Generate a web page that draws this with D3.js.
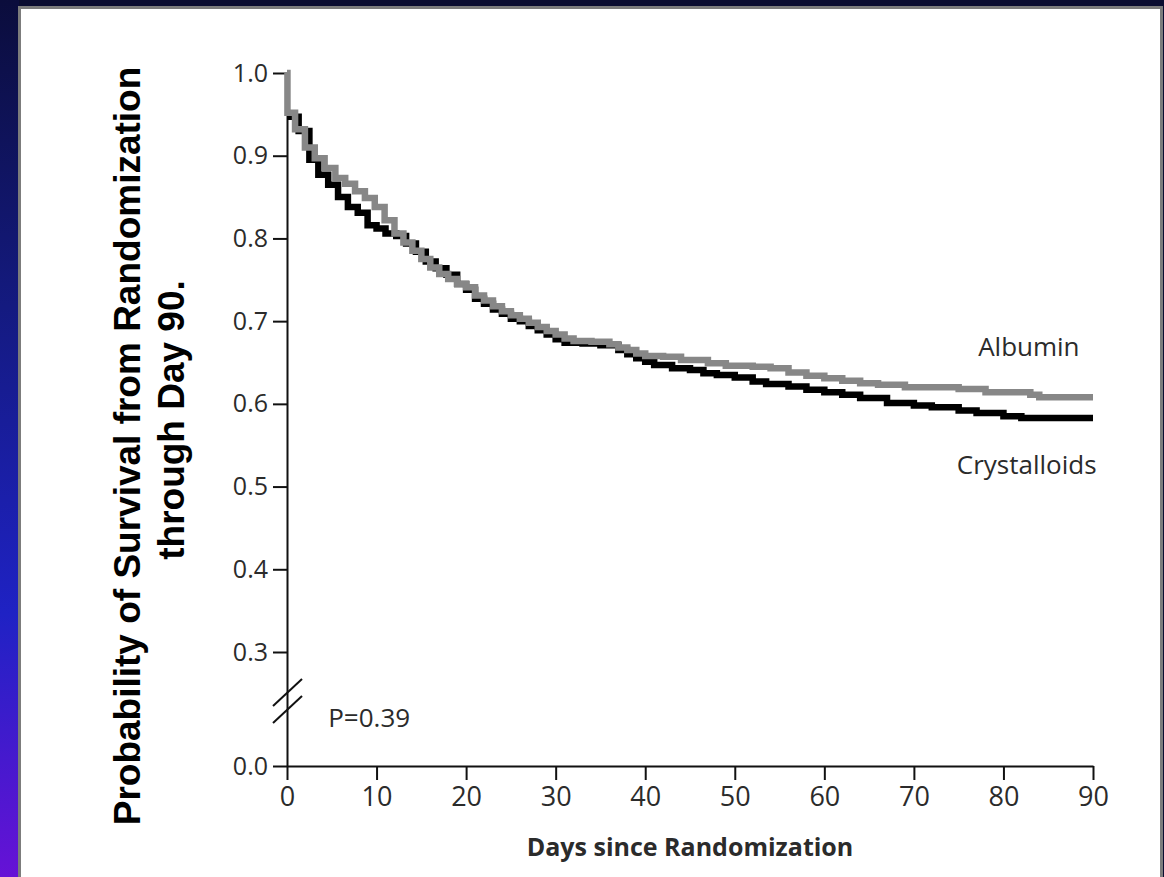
<!DOCTYPE html>
<html>
<head>
<meta charset="utf-8">
<script src="https://cdn.jsdelivr.net/npm/d3@7"></script>
<style>
  body { margin: 0; background: #0a0c30; }
  svg { display: block; }
  .axis path, .axis line { stroke: #111; stroke-width: 2; }
  .axis text { font-family: "Open Sans", sans-serif; fill: #2b2b2b; }
  .y.axis text { font-size: 25px; }
  .x.axis text { font-size: 27px; }
</style>
</head>
<body>
<div id="chart"></div>
<script>
// Kaplan-Meier steps (day, survival)
var albuminDays = [0, 0.05, 0.9, 2.0, 3.1, 4.2, 5.4, 6.5, 7.6, 8.7, 9.8, 10.9, 12.0, 13.0, 14.0, 15.0, 16.0,
  17.0, 18.0, 19.0, 20.0, 21.0, 22.0, 23.0, 24.0, 25.0, 26.0, 27.0, 28.0, 29.0, 30.0, 31.0, 32.0, 34.0,
  36.0, 37.0, 38.0, 39.0, 40.0, 42.0, 44.0, 47.0, 49.0, 52.0, 54.0, 56.0, 58.0, 60.0, 62.0, 64.0, 66.0,
  69.0, 75.0, 78.0, 83.0, 84.0, 90.0];
var albuminSurv = [1.0, 0.952, 0.932, 0.910, 0.897, 0.885, 0.873, 0.866, 0.857, 0.849, 0.838, 0.822, 0.806,
  0.795, 0.785, 0.775, 0.765, 0.757, 0.751, 0.745, 0.741, 0.731, 0.725, 0.718, 0.712, 0.707, 0.703,
  0.698, 0.693, 0.688, 0.684, 0.679, 0.676, 0.675, 0.672, 0.668, 0.665, 0.661, 0.658, 0.657, 0.653,
  0.649, 0.646, 0.645, 0.643, 0.638, 0.634, 0.631, 0.628, 0.625, 0.623, 0.620, 0.618, 0.614, 0.611,
  0.608, 0.608];

var crystDays = [0, 1.3, 2.5, 3.5, 4.6, 5.7, 6.8, 7.9, 9.0, 10.0, 11.0, 12.2, 13.3, 14.4, 15.5, 16.6, 17.8,
  19.0, 20.0, 21.0, 22.0, 23.0, 24.0, 25.0, 26.0, 27.0, 28.0, 29.0, 30.0, 31.0, 33.0, 35.0, 37.0, 38.0,
  39.0, 40.0, 41.0, 43.0, 45.0, 46.5, 48.0, 50.0, 52.0, 53.5, 56.0, 58.0, 60.0, 62.0, 64.0, 67.0, 70.0,
  72.0, 75.0, 77.0, 80.0, 82.0, 90.0];
var crystSurv = [0.947, 0.930, 0.895, 0.877, 0.865, 0.850, 0.838, 0.831, 0.816, 0.812, 0.806, 0.803, 0.794,
  0.784, 0.772, 0.764, 0.756, 0.745, 0.738, 0.727, 0.721, 0.714, 0.709, 0.703, 0.700, 0.694, 0.689,
  0.684, 0.678, 0.674, 0.673, 0.671, 0.665, 0.660, 0.655, 0.651, 0.647, 0.643, 0.641, 0.637, 0.635,
  0.632, 0.627, 0.624, 0.621, 0.617, 0.614, 0.611, 0.607, 0.601, 0.598, 0.596, 0.592, 0.589, 0.585,
  0.583, 0.583];

var xTicks = [0, 10, 20, 30, 40, 50, 60, 70, 80, 90];
var yTicks = [0.0, 0.3, 0.4, 0.5, 0.6, 0.7, 0.8, 0.9, 1.0];

var W = 1164, H = 877;
var margin = { top: 73, right: 71, bottom: 111, left: 287 };
var plotW = W - margin.left - margin.right;
var plotH = H - margin.top - margin.bottom;

var svg = d3.select('#chart').append('svg').attr('width', W).attr('height', H);

// backdrop: navy frame with a blue/purple left edge, white panel
var defs = svg.append('defs');
var grad = defs.append('linearGradient').attr('id', 'edge')
  .attr('x1', 0).attr('y1', 0).attr('x2', 0).attr('y2', 1);
grad.append('stop').attr('offset', '0%').attr('stop-color', '#0b0d3c');
grad.append('stop').attr('offset', '35%').attr('stop-color', '#141a80');
grad.append('stop').attr('offset', '70%').attr('stop-color', '#1f22c4');
grad.append('stop').attr('offset', '100%').attr('stop-color', '#6612d6');
svg.append('rect').attr('width', W).attr('height', H).attr('fill', '#0a0c30');
svg.append('rect').attr('width', 19).attr('height', H).attr('fill', 'url(#edge)');
svg.append('rect').attr('x', 19.5).attr('y', 7.5).attr('width', 1142).attr('height', H)
  .attr('fill', '#fff').attr('stroke', '#7c7c7c').attr('stroke-width', 3);

var g = svg.append('g').attr('transform', 'translate(' + margin.left + ',' + margin.top + ')');

var x = d3.scaleLinear().domain([0, 90]).range([0, plotW]);
// broken axis: 0.0 sits just below the 0.3 tick
var y = d3.scaleLinear().domain([0, 0.3, 1]).range([plotH, plotH - 114, 0]);

var xAxis = d3.axisBottom(x).tickValues(xTicks).tickSize(14).tickSizeOuter(0).tickPadding(7);
var yAxis = d3.axisLeft(y).tickValues(yTicks).tickSize(14).tickSizeOuter(0).tickPadding(5)
  .tickFormat(d3.format('.1f'));

g.append('g').attr('class', 'y axis').call(yAxis);
g.append('g').attr('class', 'x axis').attr('transform', 'translate(0,' + plotH + ')').call(xAxis);

// break marks on the y axis
[0.15, 0.195].forEach(function(v) {
  g.append('line')
    .attr('x1', -14).attr('y1', y(v) + 14)
    .attr('x2', 15).attr('y2', y(v) - 13)
    .attr('stroke', '#111').attr('stroke-width', 2);
});

var line = d3.line().curve(d3.curveStepAfter)
  .x(function(d) { return x(d[0]); })
  .y(function(d) { return y(d[1]); });

var series = [
  { name: 'Crystalloids', days: crystDays, surv: crystSurv, color: '#000' },
  { name: 'Albumin', days: albuminDays, surv: albuminSurv, color: '#878787' }
];
series.forEach(function(s) {
  g.append('path')
    .datum(d3.zip(s.days, s.surv))
    .attr('fill', 'none')
    .attr('stroke', s.color)
    .attr('stroke-width', 6.5)
    .attr('d', line);
});

var labelFont = '"Open Sans", sans-serif';
g.append('text').attr('x', x(88.5)).attr('y', y(0.658)).attr('text-anchor', 'end')
  .style('font-family', labelFont).style('font-size', '26px').style('fill', '#2b2b2b').text('Albumin');
g.append('text').attr('x', x(90.4)).attr('y', y(0.515)).attr('text-anchor', 'end')
  .style('font-family', labelFont).style('font-size', '26px').style('fill', '#2b2b2b').text('Crystalloids');
g.append('text').attr('x', x(4.6)).attr('y', y(0.103))
  .style('font-family', labelFont).style('font-size', '26px').style('fill', '#2b2b2b').text('P=0.39');

// axis titles
g.append('text').attr('x', plotW / 2).attr('y', plotH + 90).attr('text-anchor', 'middle')
  .style('font-family', labelFont).style('font-size', '25px').style('font-weight', 'bold')
  .style('fill', '#2b2b2b').text('Days since Randomization');

var yTitle = svg.append('text')
  .attr('transform', 'translate(140,446) rotate(-90)')
  .attr('text-anchor', 'middle')
  .style('font-family', '"Liberation Sans", Arial, sans-serif')
  .style('font-size', '37px').style('font-weight', 'bold').style('fill', '#000');
yTitle.append('tspan').attr('x', 0).attr('dy', 0).text('Probability of Survival from Randomization');
yTitle.append('tspan').attr('x', 26).attr('dy', 44).text('through Day 90.');
</script>
</body>
</html>
